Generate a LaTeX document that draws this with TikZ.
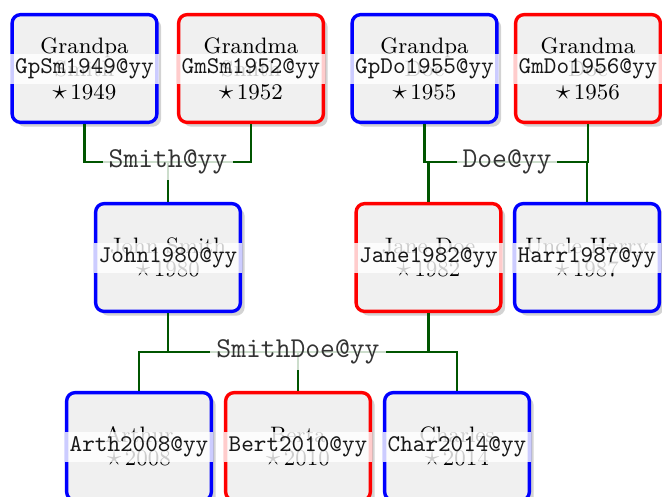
\documentclass[tikz,border=0pt]{standalone}
\usepackage{amsmath, amssymb}
\usetikzlibrary{shadows}

\definecolor{famgreen}{RGB}{0,85,0}
\newcommand{\bornsym}{{\fontsize{11.5pt}{11.5pt}\selectfont$\star$}}

\begin{document}
\begin{tikzpicture}[x=0.4167pt, y=-0.4167pt,
  person/.style={draw, rounded corners=3.5pt, line width=1.4pt, fill=black!6,
    minimum width=60.3pt, minimum height=44.9pt, align=center,
    font=\fontsize{9.3pt}{9.6pt}\selectfont,
    drop shadow={shadow xshift=1.8pt, shadow yshift=-1.8pt, opacity=0.35}},
  male/.style={person, draw=blue},
  female/.style={person, draw=red},
  idband/.style={fill=white, fill opacity=0.8, text opacity=1, text=black!90,
    minimum width=61.7pt, minimum height=12.5pt, inner sep=0pt, font=\ttfamily},
  famline/.style={draw=famgreen, line width=1pt},
  famlabel/.style={fill=white, fill opacity=0.8, text opacity=1, text=black!80,
    font=\large\ttfamily, inner sep=2.5pt}]
\useasboundingbox (0,0) rectangle (662,497);
\node[male] (gpsm) at (84.5,68.5) {Grandpa\\Smith\\\bornsym\,1949};
\node[female] (gmsm) at (251,68.5) {Grandma\\Smith\\\bornsym\,1952};
\node[male] (gpdo) at (424.5,68.5) {Grandpa\\Doe\\\bornsym\,1955};
\node[female] (gmdo) at (588,68.5) {Grandma\\Doe\\\bornsym\,1956};
\node[male] (john) at (168,257.5) {John Smith\\\bornsym\,1980};
\node[female] (jane) at (428.5,257.5) {Jane Doe\\\bornsym\,1982};
\node[male] (harry) at (587,257.5) {Uncle Harry\\\bornsym\,1987};
\node[male] (arthur) at (139,446.5) {Arthur\\\bornsym\,2008};
\node[female] (berta) at (298,446.5) {Berta\\\bornsym\,2010};
\node[male] (charles) at (457,446.5) {Charles\\\bornsym\,2014};
\node[idband] (gpsm-id) at (gpsm) {GpSm1949@yy};
\node[idband] (gmsm-id) at (gmsm) {GmSm1952@yy};
\node[idband] (gpdo-id) at (gpdo) {GpDo1955@yy};
\node[idband] (gmdo-id) at (gmdo) {GmDo1956@yy};
\node[idband] (john-id) at (john) {John1980@yy};
\node[idband] (jane-id) at (jane) {Jane1982@yy};
\node[idband] (harry-id) at (harry) {Harr1987@yy};
\node[idband] (arthur-id) at (arthur) {Arth2008@yy};
\node[idband] (berta-id) at (berta) {Bert2010@yy};
\node[idband] (charles-id) at (charles) {Char2014@yy};
\coordinate (smith) at (168,162);
\coordinate (doe) at (507,162);
\coordinate (smithdoe) at (298,352);
\draw[famline] (gpsm.south) |- (smith) -| (gmsm.south);
\draw[famline] (smith) -- (john.north);
\draw[famline] (gpdo.south) |- (doe) -| (gmdo.south);
\draw[famline] (jane.north) |- (doe);
\draw[famline] (harry.north) |- (doe);
\draw[famline] (john.south) |- (smithdoe);
\draw[famline] (jane.south) |- (smithdoe);
\draw[famline] (arthur.north) |- (smithdoe) -| (charles.north);
\draw[famline] (berta.north) -- (smithdoe);
\node[famlabel] (smith-l) at (smith) {Smith@yy};
\node[famlabel] (doe-l) at (doe) {Doe@yy};
\node[famlabel] (smithdoe-l) at (smithdoe) {SmithDoe@yy};
\end{tikzpicture}
\end{document}
